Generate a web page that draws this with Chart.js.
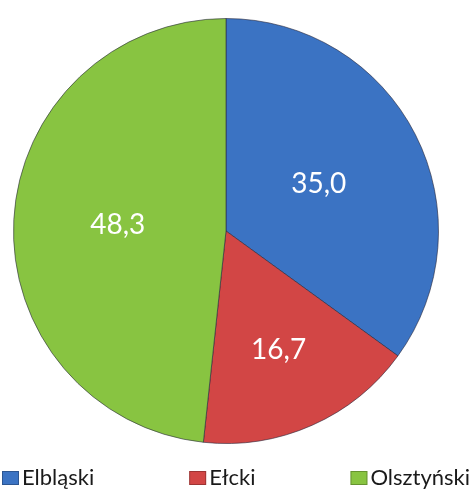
<!DOCTYPE html>
<html>
<head>
<meta charset="utf-8">
<script src="https://cdn.jsdelivr.net/npm/chart.js@4"></script>
<style>
  html, body { margin: 0; padding: 0; background: #fff; }
  #wrap { width: 472px; height: 496px; }
</style>
</head>
<body>
<div id="wrap"><canvas id="chart" width="472" height="496"></canvas></div>
<script>
const regions = ['Elbląski', 'Ełcki', 'Olsztyński'];
const shares = [35.0, 16.7, 48.3];
const sliceColors = ['#3b73c3', '#d24645', '#88c441'];

// numbers written inside each slice, Polish decimal comma
const labelDepth = [0.49, 0.61, 0.51];
const sliceLabels = {
  id: 'sliceLabels',
  afterDatasetsDraw(chart) {
    const ctx = chart.ctx;
    const meta = chart.getDatasetMeta(0);
    ctx.save();
    ctx.font = '28px Lato';
    ctx.fillStyle = '#ffffff';
    ctx.textAlign = 'center';
    ctx.textBaseline = 'middle';
    meta.data.forEach((arc, i) => {
      const p = arc.getProps(['x', 'y', 'startAngle', 'endAngle', 'outerRadius'], true);
      const mid = (p.startAngle + p.endAngle) / 2;
      const r = p.outerRadius * labelDepth[i];
      const txt = shares[i].toFixed(1).replace('.', ',');
      ctx.fillText(txt, p.x + Math.cos(mid) * r, p.y + Math.sin(mid) * r);
    });
    ctx.restore();
  }
};

// legend spread across the bottom edge
const spreadLegend = {
  id: 'spreadLegend',
  afterDraw(chart) {
    const ctx = chart.ctx;
    ctx.save();
    ctx.font = '22px Lato';
    ctx.textBaseline = 'middle';
    const box = 17, gapText = 3, y = 478;
    const widths = regions.map(t => box + gapText + ctx.measureText(t).width);
    const total = widths.reduce((a, b) => a + b, 0);
    const gap = (chart.width - 4 - total) / (regions.length - 1);
    let x = 2;
    regions.forEach((t, i) => {
      ctx.fillStyle = sliceColors[i];
      ctx.fillRect(x, y - 7, box, 14);
      ctx.strokeStyle = 'rgba(0,0,0,0.25)';
      ctx.lineWidth = 1;
      ctx.strokeRect(x + 0.5, y - 6.5, box - 1, 13);
      ctx.fillStyle = '#1a1a1a';
      ctx.fillText(t, x + box + gapText, y);
      x += widths[i] + gap;
    });
    ctx.restore();
  }
};

new Chart(document.getElementById('chart'), {
  type: 'pie',
  data: {
    labels: regions,
    datasets: [{
      data: shares,
      backgroundColor: sliceColors,
      borderColor: 'rgba(40,40,60,0.6)',
      borderWidth: 1
    }]
  },
  options: {
    responsive: false,
    animation: false,
    layout: { padding: { top: 18, bottom: 52, left: 13, right: 33 } },
    plugins: {
      legend: { display: false },
      tooltip: { enabled: false }
    }
  },
  plugins: [sliceLabels, spreadLegend]
});
</script>
</body>
</html>
